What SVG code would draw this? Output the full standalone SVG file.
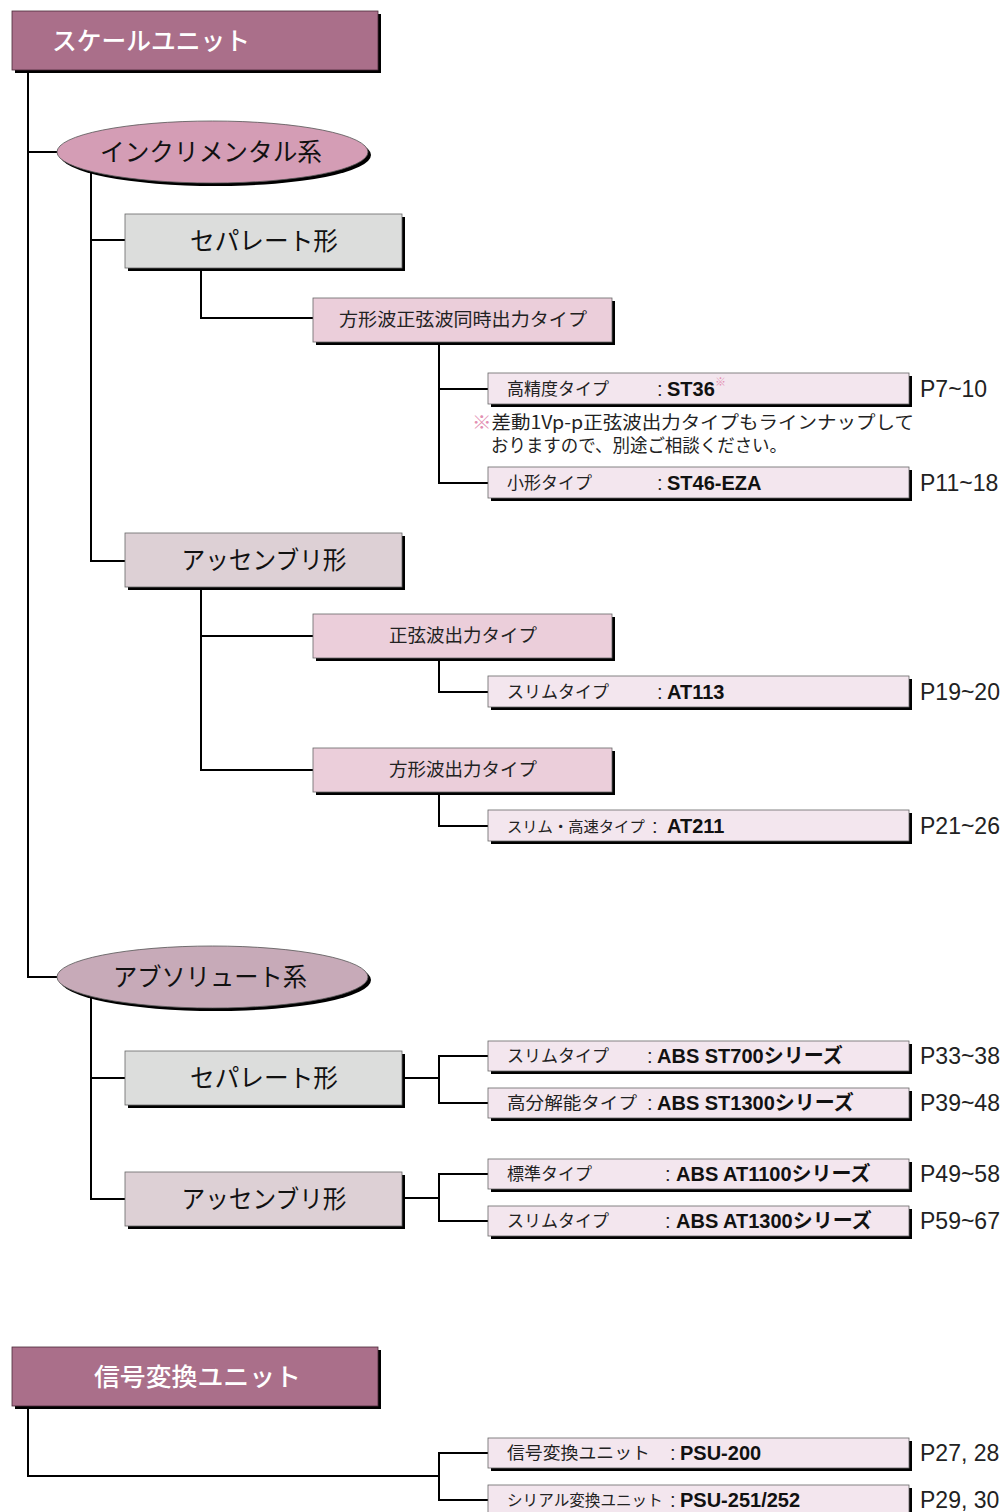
<svg xmlns="http://www.w3.org/2000/svg" width="1007" height="1512" viewBox="0 0 1007 1512">
<style>
.jp{font-family:"Noto Sans CJK JP","Noto Sans",sans-serif;}
.shadow{fill:#000;}
.top{fill:#AA6F8A;stroke:#4a2a38;stroke-width:0.8;}
.gray{fill:#DCDDDC;stroke:#666;stroke-width:0.8;}
.mauve{fill:#DDD0D5;stroke:#666;stroke-width:0.8;}
.mid{fill:#EBCEDA;stroke:#666;stroke-width:0.8;}
.leaf{fill:#F3E6EE;stroke:#666;stroke-width:0.8;}
.toptxt{font-family:"Noto Sans CJK JP",sans-serif;font-size:25px;fill:#fff;font-weight:500;}
.l2txt{font-family:"Noto Sans CJK JP",sans-serif;font-size:25px;fill:#111;text-anchor:middle;}
.midtxt{font-family:"Noto Sans CJK JP",sans-serif;font-size:18.5px;fill:#222;text-anchor:middle;}
.lbl{font-family:"Noto Sans CJK JP",sans-serif;font-size:17px;fill:#222;}
.val{font-family:"Liberation Sans","Noto Sans CJK JP",sans-serif;font-size:20px;font-weight:bold;fill:#111;}
.colon{font-family:"Liberation Sans",sans-serif;font-size:20px;fill:#222;}
.page{font-family:"Liberation Sans",sans-serif;font-size:23px;fill:#222;}
.note{font-family:"Noto Sans CJK JP",sans-serif;font-size:18px;fill:#222;}
.pink{fill:#E38FB2;}
.conn{fill:none;stroke:#000;stroke-width:2;}
</style>

<g id="connectors">
  <path class="conn" d="M28,71 V977 H57"/>
  <path class="conn" d="M28,152 H57"/>
  <path class="conn" d="M91,171 V561 H125"/>
  <path class="conn" d="M91,240 H125"/>
  <path class="conn" d="M201,268 V318 H313"/>
  <path class="conn" d="M439,342 V483 H488"/>
  <path class="conn" d="M439,389 H488"/>
  <path class="conn" d="M201,587 V770 H313"/>
  <path class="conn" d="M201,636 H313"/>
  <path class="conn" d="M439,658 V692 H488"/>
  <path class="conn" d="M439,792 V826 H488"/>
  <path class="conn" d="M91,996 V1199 H125"/>
  <path class="conn" d="M91,1078 H125"/>
  <path class="conn" d="M402,1078 H439"/>
  <path class="conn" d="M488,1056 H439 V1103 H488"/>
  <path class="conn" d="M402,1198 H439"/>
  <path class="conn" d="M488,1174 H439 V1221 H488"/>
  <path class="conn" d="M28,1406 V1476 H439"/>
  <path class="conn" d="M488,1453 H439 V1500 H488"/>
</g>

<g id="scale-unit">
  <rect class="shadow" x="15" y="14" width="366" height="59"/>
  <rect class="top" x="12" y="11" width="366" height="59"/>
  <text class="toptxt" x="52" y="50" textLength="198" lengthAdjust="spacingAndGlyphs">スケールユニット</text>
</g>

<g id="incremental">
  <ellipse class="shadow" cx="215.5" cy="155" rx="155.5" ry="31"/>
  <ellipse cx="212.5" cy="152" rx="155.5" ry="31" fill="#D49DB5" stroke="#555" stroke-width="0.8"/>
  <text class="l2txt" x="211" y="161" textLength="222" lengthAdjust="spacingAndGlyphs">インクリメンタル系</text>
</g>

<g id="inc-separate">
  <rect class="shadow" x="128" y="217" width="277" height="54"/>
  <rect class="gray" x="125" y="214" width="277" height="54"/>
  <text class="l2txt" x="264" y="250" textLength="148" lengthAdjust="spacingAndGlyphs">セパレート形</text>
</g>

<g id="inc-sep-square-sine">
  <rect class="shadow" x="316" y="301" width="299" height="44"/>
  <rect class="mid" x="313" y="298" width="299" height="44"/>
  <text class="midtxt" x="463" y="326" textLength="248" lengthAdjust="spacingAndGlyphs">方形波正弦波同時出力タイプ</text>
</g>

<g id="st36">
  <rect class="shadow" x="491" y="376" width="421" height="31"/>
  <rect class="leaf" x="488" y="373" width="421" height="31"/>
  <text class="lbl" x="507" y="395">高精度タイプ</text>
  <text class="colon" x="657" y="396">:</text>
  <text class="val" x="667" y="396">ST36</text>
  <text class="pink" x="715" y="386" font-family="Noto Sans CJK JP,sans-serif" font-size="11">※</text>
  <text class="page" x="920" y="397">P7~10</text>
</g>

<g id="note">
  <text class="note" x="472" y="429" textLength="442" lengthAdjust="spacingAndGlyphs"><tspan class="pink">※</tspan>差動1Vp-p正弦波出力タイプもラインナップして</text>
  <text class="note" x="491" y="452" textLength="296" lengthAdjust="spacingAndGlyphs">おりますので、別途ご相談ください。</text>
</g>

<g id="st46">
  <rect class="shadow" x="491" y="470" width="421" height="31"/>
  <rect class="leaf" x="488" y="467" width="421" height="31"/>
  <text class="lbl" x="507" y="489">小形タイプ</text>
  <text class="colon" x="657" y="490">:</text>
  <text class="val" x="667" y="490">ST46-EZA</text>
  <text class="page" x="920" y="491">P11~18</text>
</g>

<g id="inc-assembly">
  <rect class="shadow" x="128" y="536" width="277" height="54"/>
  <rect class="mauve" x="125" y="533" width="277" height="54"/>
  <text class="l2txt" x="264" y="569" textLength="165" lengthAdjust="spacingAndGlyphs">アッセンブリ形</text>
</g>

<g id="inc-asm-sine">
  <rect class="shadow" x="316" y="617" width="299" height="44"/>
  <rect class="mid" x="313" y="614" width="299" height="44"/>
  <text class="midtxt" x="463" y="642">正弦波出力タイプ</text>
</g>

<g id="at113">
  <rect class="shadow" x="491" y="679" width="421" height="31"/>
  <rect class="leaf" x="488" y="676" width="421" height="31"/>
  <text class="lbl" x="507" y="698">スリムタイプ</text>
  <text class="colon" x="657" y="699">:</text>
  <text class="val" x="667" y="699">AT113</text>
  <text class="page" x="920" y="700">P19~20</text>
</g>

<g id="inc-asm-square">
  <rect class="shadow" x="316" y="751" width="299" height="44"/>
  <rect class="mid" x="313" y="748" width="299" height="44"/>
  <text class="midtxt" x="463" y="776">方形波出力タイプ</text>
</g>

<g id="at211">
  <rect class="shadow" x="491" y="813" width="421" height="31"/>
  <rect class="leaf" x="488" y="810" width="421" height="31"/>
  <text class="lbl" x="507" y="832"><tspan font-size="15.3">スリム・高速タイプ</tspan><tspan class="colon" x="652" y="833">:</tspan></text>
  <text class="val" x="667" y="833">AT211</text>
  <text class="page" x="920" y="834">P21~26</text>
</g>

<g id="absolute">
  <ellipse class="shadow" cx="215.5" cy="980" rx="155.5" ry="31"/>
  <ellipse cx="212.5" cy="977" rx="155.5" ry="31" fill="#C7AAB8" stroke="#555" stroke-width="0.8"/>
  <text class="l2txt" x="210" y="986" textLength="194" lengthAdjust="spacingAndGlyphs">アブソリュート系</text>
</g>

<g id="abs-separate">
  <rect class="shadow" x="128" y="1054" width="277" height="54"/>
  <rect class="gray" x="125" y="1051" width="277" height="54"/>
  <text class="l2txt" x="264" y="1087" textLength="148" lengthAdjust="spacingAndGlyphs">セパレート形</text>
</g>

<g id="st700">
  <rect class="shadow" x="491" y="1044" width="421" height="30"/>
  <rect class="leaf" x="488" y="1041" width="421" height="30"/>
  <text class="lbl" x="507" y="1062">スリムタイプ</text>
  <text class="colon" x="647" y="1063">:</text>
  <text class="val" x="657" y="1063">ABS ST700シリーズ</text>
  <text class="page" x="920" y="1064">P33~38</text>
</g>

<g id="st1300">
  <rect class="shadow" x="491" y="1091" width="421" height="30"/>
  <rect class="leaf" x="488" y="1088" width="421" height="30"/>
  <text class="lbl" x="507" y="1109" textLength="130" lengthAdjust="spacingAndGlyphs">高分解能タイプ</text>
  <text class="colon" x="647" y="1110">:</text>
  <text class="val" x="657" y="1110">ABS ST1300シリーズ</text>
  <text class="page" x="920" y="1111">P39~48</text>
</g>

<g id="abs-assembly">
  <rect class="shadow" x="128" y="1175" width="277" height="54"/>
  <rect class="mauve" x="125" y="1172" width="277" height="54"/>
  <text class="l2txt" x="264" y="1208" textLength="165" lengthAdjust="spacingAndGlyphs">アッセンブリ形</text>
</g>

<g id="at1100">
  <rect class="shadow" x="491" y="1162" width="421" height="30"/>
  <rect class="leaf" x="488" y="1159" width="421" height="30"/>
  <text class="lbl" x="507" y="1180">標準タイプ</text>
  <text class="colon" x="665" y="1181">:</text>
  <text class="val" x="676" y="1181">ABS AT1100シリーズ</text>
  <text class="page" x="920" y="1182">P49~58</text>
</g>

<g id="at1300">
  <rect class="shadow" x="491" y="1209" width="421" height="30"/>
  <rect class="leaf" x="488" y="1206" width="421" height="30"/>
  <text class="lbl" x="507" y="1227">スリムタイプ</text>
  <text class="colon" x="665" y="1228">:</text>
  <text class="val" x="676" y="1228">ABS AT1300シリーズ</text>
  <text class="page" x="920" y="1229">P59~67</text>
</g>

<g id="signal-unit">
  <rect class="shadow" x="15" y="1350" width="366" height="59"/>
  <rect class="top" x="12" y="1347" width="366" height="59"/>
  <text class="toptxt" x="94" y="1386" textLength="207" lengthAdjust="spacingAndGlyphs">信号変換ユニット</text>
</g>

<g id="psu200">
  <rect class="shadow" x="491" y="1441" width="421" height="30"/>
  <rect class="leaf" x="488" y="1438" width="421" height="30"/>
  <text class="lbl" x="507" y="1459" textLength="143" lengthAdjust="spacingAndGlyphs">信号変換ユニット</text>
  <text class="colon" x="670" y="1460">:</text>
  <text class="val" x="680" y="1460">PSU-200</text>
  <text class="page" x="920" y="1461">P27, 28</text>
</g>

<g id="psu251">
  <rect class="shadow" x="491" y="1488" width="421" height="30"/>
  <rect class="leaf" x="488" y="1485" width="421" height="30"/>
  <text class="lbl" x="507" y="1506"><tspan font-size="15.6">シリアル変換ユニット</tspan><tspan class="colon" x="670" y="1507">:</tspan></text>
  <text class="val" x="680" y="1507">PSU-251/252</text>
  <text class="page" x="920" y="1508">P29, 30</text>
</g>
</svg>
